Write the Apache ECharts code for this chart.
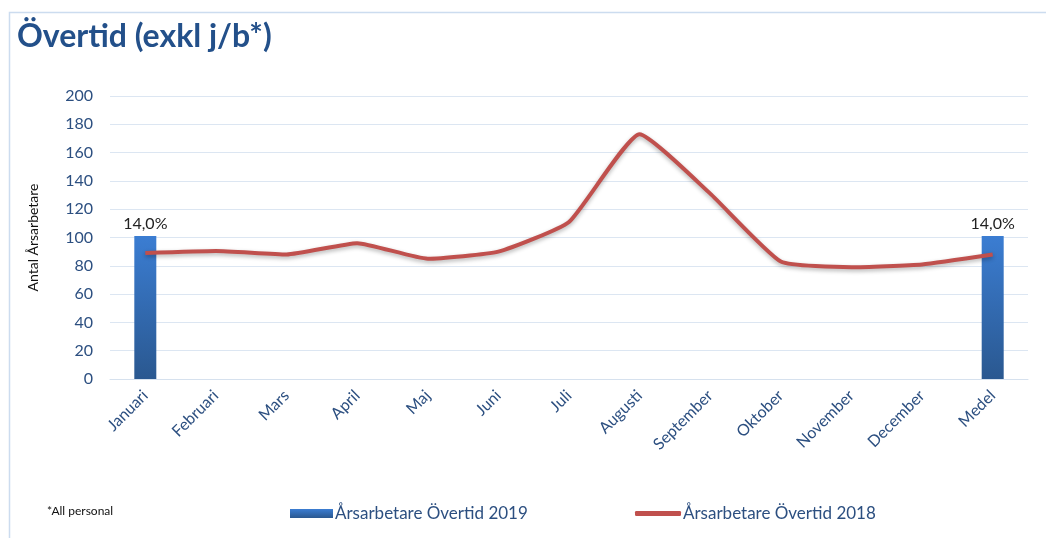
<!DOCTYPE html>
<html>
<head>
<meta charset="utf-8">
<script src="https://cdn.jsdelivr.net/npm/echarts@6/dist/echarts.min.js"></script>
<style>
  html, body { margin: 0; padding: 0; background: #fff; }
  #chart { width: 1046px; height: 538px; }
</style>
</head>
<body>
<div id="chart"></div>
<script>
  // månader + medel
  var months = ['Januari', 'Februari', 'Mars', 'April', 'Maj', 'Juni', 'Juli',
    'Augusti', 'September', 'Oktober', 'November', 'December', 'Medel']
  // 2019 finns bara för januari och medel
  var bars2019 = [101, '-', '-', '-', '-', '-', '-', '-', '-', '-', '-', '-', 101]
  var barLabels = ['14,0%', '', '', '', '', '', '', '', '', '', '', '', '14,0%']
  var line2018 = [89, 90.5, 88, 96, 85, 90, 111, 173, 131, 83, 79, 81, 88]
  var yTicks = [0, 200, 20]

  var font = 'Lato'
  var chart = echarts.init(document.getElementById('chart'))

  var option = {
    animation: false,
    textStyle: { fontFamily: font },
    title: {
      text: 'Övertid (exkl j/b*)',
      left: 12, top: 16,
      textStyle: { fontSize: 32, fontWeight: 'bold', color: '#23508A', fontFamily: font }
    },
    graphic: [
      { type: 'rect', left: 7, top: 10, shape: { width: 1100, height: 600 },
        style: { fill: 'none', stroke: '#CCDCEF', lineWidth: 1.5 }, silent: true },
      { type: 'text', left: 47, top: 505,
        style: { text: '*All personal', fontSize: 12, fill: '#111', fontFamily: font } }
    ],
    legend: [
      { data: [{ name: 'Årsarbetare Övertid 2019', icon: 'rect' }],
        left: 285, top: 500, itemWidth: 43, itemHeight: 9, itemGap: 4,
        textStyle: { fontSize: 17, color: '#2C4F80', padding: [0, 0, 0, -3] } },
      { data: [{ name: 'Årsarbetare Övertid 2018', icon: 'roundRect' }],
        left: 630, top: 500, itemWidth: 46, itemHeight: 5,
        textStyle: { fontSize: 17, color: '#2C4F80', padding: [0, 0, 0, -3] } }
    ],
    grid: { left: 110, right: 18, top: 96, bottom: 159 },
    xAxis: {
      type: 'category',
      data: months,
      axisLine: { lineStyle: { color: '#D6E1EE' } },
      axisTick: { show: false },
      axisLabel: { rotate: 45, fontSize: 16, color: '#2C4F80', margin: 14, interval: 0 }
    },
    yAxis: {
      type: 'value',
      min: yTicks[0], max: yTicks[1], interval: yTicks[2],
      name: 'Antal Årsarbetare',
      nameLocation: 'middle',
      nameGap: 70,
      nameTextStyle: { fontSize: 14, color: '#111' },
      axisLine: { show: false },
      axisTick: { show: false },
      axisLabel: { fontSize: 16, color: '#2C4F80', margin: 17 },
      splitLine: { lineStyle: { color: '#DCE6F2', width: 1 } }
    },
    series: [
      {
        name: 'Årsarbetare Övertid 2019',
        type: 'bar',
        data: bars2019,
        barWidth: 22,
        itemStyle: {
          color: new echarts.graphic.LinearGradient(0, 0, 0, 1, [
            { offset: 0, color: '#3B7DD2' },
            { offset: 1, color: '#2A5890' }
          ])
        },
        label: {
          show: true, position: 'top', distance: 4,
          fontSize: 16, color: '#222',
          formatter: function (p) { return barLabels[p.dataIndex] }
        }
      },
      {
        name: 'Årsarbetare Övertid 2018',
        type: 'line',
        data: line2018,
        symbol: 'none',
        smooth: 0.15,
        itemStyle: { color: '#C0504D' },
        lineStyle: {
          color: '#C0504D', width: 4,
          shadowColor: 'rgba(0,0,0,0.3)', shadowBlur: 4, shadowOffsetY: 2
        }
      }
    ]
  }

  chart.setOption(option)
</script>
</body>
</html>
